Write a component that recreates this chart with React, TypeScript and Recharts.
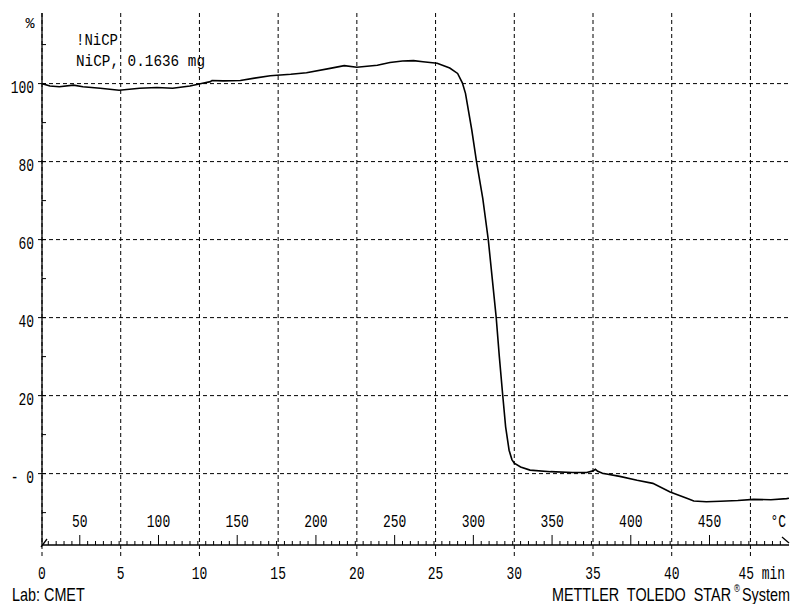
import { LineChart, Line, XAxis, YAxis, CartesianGrid } from "recharts";

// TGA curve: time in minutes, sample mass in %
const minutes = [
  0, 0.5, 1.1, 2.0, 2.6, 3.7, 4.9, 6.2, 7.3, 8.3, 9.4, 10.2, 10.7, 10.8, 11.5, 12.6,
  13.5, 14.5, 15.8, 16.8, 18.3, 19.2, 20.0, 21.3, 22.1, 22.9, 23.6, 24.2, 25.1, 25.9,
  26.4, 26.7, 26.9, 27.3, 27.6, 28.0, 28.35, 28.6, 28.85, 29.05, 29.27, 29.45, 29.67,
  29.85, 30.0, 30.4, 31.0, 32.3, 33.7, 34.6, 35.0, 35.15, 35.3, 35.6, 36.7, 37.8, 38.8,
  39.9, 41.0, 41.4, 42.2, 43.1, 44.2, 45.2, 46.3, 47.3, 47.45,
];
const massPct = [
  100.0, 99.4, 99.2, 99.6, 99.2, 98.8, 98.3, 98.8, 99.0, 98.8, 99.4, 100.1, 100.5, 100.8, 100.7, 100.8,
  101.4, 102.0, 102.4, 102.8, 103.9, 104.6, 104.2, 104.7, 105.4, 105.8, 105.9, 105.6, 105.2, 104.0,
  102.6, 100.2, 97.5, 88.1, 80.0, 70.5, 59.9, 50.0, 40.1, 30.0, 19.9, 12.0, 6.0,
  3.6, 2.7, 1.7, 0.9, 0.5, 0.3, 0.3, 0.7, 1.1, 0.6, 0.1, -0.7, -1.7, -2.5,
  -4.7, -6.4, -7.0, -7.2, -7.1, -6.9, -6.6, -6.7, -6.4, -6.3,
];

const timeTicks = [0, 5, 10, 15, 20, 25, 30, 35, 40, 45];
const pctTicks = [-10, 0, 10, 20, 30, 40, 50, 60, 70, 80, 90, 100, 110];
const pctGrid = [0, 20, 40, 60, 80, 100];
const tempTicks = [
  30, 35, 40, 45, 50, 55, 60, 65, 70, 75, 80, 85, 90, 95, 100, 105, 110, 115, 120, 125, 130, 135, 140, 145,
  150, 155, 160, 165, 170, 175, 180, 185, 190, 195, 200, 205, 210, 215, 220, 225, 230, 235, 240, 245, 250,
  255, 260, 265, 270, 275, 280, 285, 290, 295, 300, 305, 310, 315, 320, 325, 330, 335, 340, 345, 350, 355,
  360, 365, 370, 375, 380, 385, 390, 395, 400, 405, 410, 415, 420, 425, 430, 435, 440, 445, 450, 455, 460,
  465, 470, 475, 480, 485, 490, 495,
];
const timeDomain = [0, 47.45];
const tempDomain = [26, 500.5]; // °C over the same time span
const pctDomain = [-18.3, 118.1];

const data = minutes.map((t, i) => ({ t, m: massPct[i] }));

const NUM_FONT = "'Liberation Mono', monospace";
const SANS = "'Liberation Sans', Arial, sans-serif";

const Num = ({ x, y, anchor, children }: any) => (
  <text
    transform={`translate(${x},${y}) scale(0.72,1)`}
    textAnchor={anchor}
    fontFamily={NUM_FONT}
    fontSize={18}
    fill="#000"
  >
    {children}
  </text>
);

// narrow sans text for the footer
const Foot = ({ x, y, size = 18, children }: any) => (
  <text
    transform={`translate(${x},${y}) scale(0.8,1)`}
    fontFamily={SANS}
    fontSize={size}
    fill="#000"
    style={{ whiteSpace: "pre" }}
  >
    {children}
  </text>
);

const TimeTick = ({ x, y, payload }: any) => (
  <g>
    <line x1={x} x2={x} y1={y} y2={y + 11} stroke="#000" strokeDasharray="4 3" />
    {payload.value === 45 ? (
      <Num x={x - 12} y={y + 34} anchor="start">45 min</Num>
    ) : (
      <Num x={x} y={y + 34} anchor="middle">{payload.value}</Num>
    )}
  </g>
);

const TempTick = ({ x, y, payload }: any) => {
  const major = payload.value % 50 === 0;
  return (
    <g>
      <line x1={x} x2={x} y1={y} y2={y - (major ? 10 : 4)} stroke="#000" />
      {major && <Num x={x} y={y - 18} anchor="middle">{payload.value}</Num>}
    </g>
  );
};

const PctTick = ({ x, y, payload }: any) => {
  const major = payload.value % 20 === 0;
  const inRange = payload.value >= 0 && payload.value <= 100;
  return (
    <g>
      <line x1={major ? x - 4 : x} x2={x + 4} y1={y} y2={y} stroke="#000" />
      {major && inRange && (
        <Num x={x - 8} y={y + 9} anchor="end">{payload.value === 0 ? "- 0" : payload.value}</Num>
      )}
    </g>
  );
};

export default function App() {
  return (
    <div style={{ position: "absolute", left: 0, top: 0, width: 794, height: 604, background: "#fff" }}>
      <LineChart width={794} height={604} data={data} margin={{ top: 13, right: 5, left: 0, bottom: 0 }}>
        <CartesianGrid
          stroke="#000"
          strokeDasharray="4 3"
          horizontalValues={pctGrid}
          verticalValues={timeTicks}
        />
        <XAxis
          dataKey="t"
          type="number"
          domain={timeDomain}
          ticks={timeTicks}
          interval={0}
          allowDataOverflow
          height={59}
          tickSize={0}
          tickMargin={0}
          tick={<TimeTick />}
          axisLine={{ stroke: "#000", strokeWidth: 1.3 }}
        />
        <XAxis
          xAxisId="temp"
          dataKey="t"
          type="number"
          domain={tempDomain}
          ticks={tempTicks}
          interval={0}
          allowDataOverflow
          mirror
          height={30}
          tickSize={0}
          tickMargin={0}
          tick={<TempTick />}
          axisLine={false}
        />
        <YAxis
          type="number"
          domain={pctDomain}
          ticks={pctTicks}
          interval={0}
          allowDataOverflow
          width={42}
          tickSize={0}
          tickMargin={0}
          tick={<PctTick />}
          axisLine={{ stroke: "#000", strokeWidth: 1.3 }}
        />
        <Line
          type="linear"
          dataKey="m"
          stroke="#000"
          strokeWidth={1.6}
          dot={false}
          isAnimationActive={false}
        />
      </LineChart>
      <svg
        width={794}
        height={604}
        style={{ position: "absolute", left: 0, top: 0, pointerEvents: "none" }}
      >
        {/* axis end marks */}
        <line x1={41} y1={547} x2={47} y2={539} stroke="#000" strokeWidth={1.3} />
        <line x1={782} y1={537} x2={789} y2={543} stroke="#000" strokeWidth={1.3} />
        <text x={30} y={28} textAnchor="middle" fontFamily={NUM_FONT} fontSize={15} fill="#000">%</text>
        <text x={76} y={45} fontFamily={NUM_FONT} fontSize={17} textLength={42} lengthAdjust="spacingAndGlyphs" fill="#000">
          !NiCP
        </text>
        <text x={76} y={66} fontFamily={NUM_FONT} fontSize={17} textLength={129} lengthAdjust="spacingAndGlyphs" fill="#000">
          NiCP, 0.1636 mg
        </text>
        <Num x={786} y={527} anchor="end">°C</Num>
        <Foot x={12} y={601}>Lab: CMET</Foot>
        <Foot x={552} y={601}>METTLER  TOLEDO  STAR</Foot>
        <Foot x={734} y={592} size={10}>®</Foot>
        <Foot x={742} y={601}>System</Foot>
      </svg>
    </div>
  );
}
